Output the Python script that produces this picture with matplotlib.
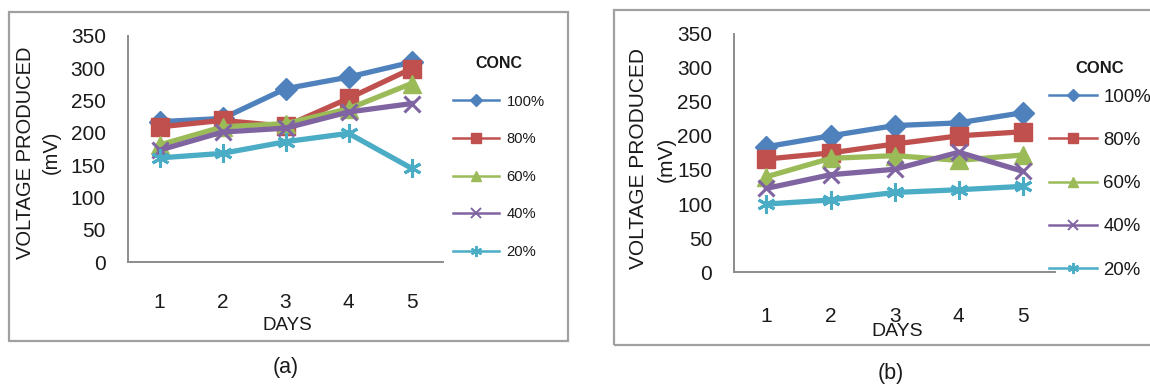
import matplotlib
matplotlib.use("Agg")
import matplotlib.pyplot as plt
from matplotlib.lines import Line2D
from matplotlib.patches import Rectangle
from matplotlib import font_manager

# ---------------- data ----------------
days = [1, 2, 3, 4, 5]
conc_labels = ["100%", "80%", "60%", "40%", "20%"]

a_100 = [217, 222, 268, 286, 309]
a_80 = [209, 219, 210, 253, 299]
a_60 = [181, 209, 214, 237, 276]
a_40 = [173, 201, 207, 232, 245]
a_20 = [161, 168, 186, 199, 145]

b_100 = [184, 200, 215, 219, 234]
b_80 = [166, 175, 188, 200, 206]
b_60 = [140, 167, 171, 164, 172]
b_40 = [123, 143, 151, 176, 148]
b_20 = [100, 106, 117, 121, 126]

y_ticks = [0, 50, 100, 150, 200, 250, 300, 350]

# ---------------- style ----------------
W, H = 1150, 385
colors = ["#4F81BD", "#C0504D", "#9BBB59", "#8064A2", "#4BACC6"]
markers = ["D", "s", "^", "x", (6, 2, 0)]
msizes = [11, 13, 13, 12, 13]
leg_msizes = [6, 7, 7, 7, 8]


def has_font(name):
    try:
        font_manager.findfont(font_manager.FontProperties(family=name),
                              fallback_to_default=False)
        return True
    except Exception:
        return False


NARROW = "Liberation Sans Narrow" if has_font("Liberation Sans Narrow") else "Liberation Sans"
REG = "Liberation Sans"
TXT = "#1a1a1a"

fig = plt.figure(figsize=(W / 100, H / 100), dpi=100)


def fx(px):
    return px / W


def fy(py):
    return 1 - py / H


def frame(x0, y0, x1, y1):
    fig.add_artist(Rectangle((fx(x0), fy(y1)), fx(x1) - fx(x0), (y1 - y0) / H,
                             transform=fig.transFigure, fill=False,
                             edgecolor="#a0a0a0", linewidth=1.6))


def panel(left, right, top, bottom, series, xpad, ypad, leg):
    ax = fig.add_axes([fx(left), fy(bottom), fx(right) - fx(left), (bottom - top) / H])
    for vals, lab, c, m, ms in zip(series, conc_labels, colors, markers, msizes):
        mew = 2.2 if m in ("x",) or isinstance(m, tuple) else 1.0
        ax.plot(days, vals, color=c, lw=3.8, marker=m, markersize=ms,
                markeredgewidth=mew, markeredgecolor=c, markerfacecolor=c,
                label=lab, solid_joinstyle="miter")
    ax.set_xlim(0.5, 5.5)
    ax.set_ylim(0, 350)
    ax.set_xticks(days)
    ax.set_xticklabels([str(d) for d in days], family=NARROW, fontsize=15, color=TXT)
    ax.set_yticks(y_ticks)
    ax.set_yticklabels([str(v) for v in y_ticks], family=NARROW, fontsize=15, color=TXT)
    ax.tick_params(axis="x", length=0, pad=xpad)
    ax.tick_params(axis="y", length=0, pad=ypad)
    for s in ("top", "right"):
        ax.spines[s].set_visible(False)
    for s in ("left", "bottom"):
        ax.spines[s].set_color("#8c8c8c")
        ax.spines[s].set_linewidth(1.4)
    ax.patch.set_alpha(0)

    handles = [Line2D([], [], color=c, lw=1.8, marker=m, markersize=ms,
                      markeredgecolor=c, markerfacecolor=c,
                      markeredgewidth=(1.4 if m == "x" or isinstance(m, tuple) else 1.0))
               for c, m, ms in zip(colors, markers, leg_msizes)]
    lg = fig.legend(handles, conc_labels, loc="upper left",
                    bbox_to_anchor=(fx(leg["x"]), fy(leg["y"])),
                    bbox_transform=fig.transFigure, frameon=False,
                    borderpad=0, borderaxespad=0,
                    handlelength=leg["hl"], handletextpad=leg["htp"],
                    labelspacing=leg["ls"],
                    prop={"family": leg["fam"], "size": leg["fs"]},
                    title="CONC",
                    title_fontproperties={"family": NARROW, "size": leg["tfs"],
                                          "weight": "bold"})
    lg._legend_box.sep = leg["sep"]
    for t in lg.get_texts():
        t.set_color(TXT)
    lg.get_title().set_color(TXT)
    return ax


# ---------------- panel (a) ----------------
frame(9.3, 11.7, 567.7, 341)
panel(128, 443, 35.7, 262, [a_100, a_80, a_60, a_40, a_20], xpad=22, ypad=16,
      leg=dict(x=453, y=56, hl=3.1, htp=0.55, ls=1.6, fam=REG, fs=10.6, tfs=11.5, sep=17))
fig.text(fx(26), fy(152.5), "VOLTAGE PRODUCED", rotation=90, ha="center", va="center",
         family=REG, fontsize=14.5, color=TXT)
fig.text(fx(51.7), fy(152.4), "(mV)", rotation=90, ha="center", va="center",
         family=REG, fontsize=14.5, color=TXT)
fig.text(fx(287), fy(326), "DAYS", ha="center", va="center", family=NARROW,
         fontsize=13.5, color=TXT)
fig.text(fx(285.7), fy(368), "(a)", ha="center", va="center", family=REG,
         fontsize=15.5, color=TXT)

# ---------------- panel (b) ----------------
frame(614, 10, 1160, 345)
panel(734.3, 1055, 33.5, 272.3, [b_100, b_80, b_60, b_40, b_20], xpad=25, ypad=16,
      leg=dict(x=1049, y=61, hl=2.6, htp=0.32, ls=1.41, fam=NARROW, fs=13.4, tfs=12, sep=9))
fig.text(fx(638.5), fy(158.3), "VOLTAGE PRODUCED", rotation=90, ha="center", va="center",
         family=REG, fontsize=15, color=TXT)
fig.text(fx(666), fy(159), "(mV)", rotation=90, ha="center", va="center",
         family=REG, fontsize=15, color=TXT)
fig.text(fx(896.7), fy(331.7), "DAYS", ha="center", va="center", family=NARROW,
         fontsize=14, color=TXT)
fig.text(fx(891), fy(373), "(b)", ha="center", va="center", family=REG,
         fontsize=15.5, color=TXT)

fig.savefig("out.png", dpi=100)
